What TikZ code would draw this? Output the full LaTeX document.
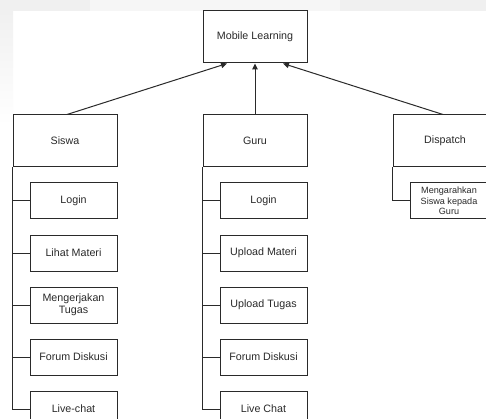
\documentclass[tikz,border=0pt]{standalone}
\usepackage{fontspec}
\setmainfont{Liberation Sans}
\usetikzlibrary{arrows.meta}
\definecolor{ink}{HTML}{2A2A2A}
\definecolor{stripgray}{HTML}{F0F0F0}
\definecolor{stripgraylight}{HTML}{F6F6F6}
\tikzset{
  x=1pt, y=-1pt,
  every node/.style={font=\fontsize{10.7}{12.4}\selectfont, text=ink},
  mainbox/.style={draw=ink, line width=1pt, rectangle, minimum width=104pt, minimum height=52pt, inner sep=0pt, align=center},
  subbox/.style={draw=ink, line width=1pt, rectangle, minimum width=87pt, minimum height=36pt, inner sep=0pt, align=center},
  link/.style={draw=ink, line width=1pt},
  arrowlink/.style={link, -{Triangle[length=6pt, width=5.5pt]}}
}
\begin{document}
\begin{tikzpicture}
\clip (0,0) rectangle (486,419);
\fill[white] (0,0) rectangle (486,419);
% backdrop bands along the top and left edges
\fill[stripgray] (0,0) rectangle (486,11);
\fill[stripgraylight] (90,0) rectangle (340,11);
\shade[top color=stripgray, bottom color=white] (0,11) rectangle (13,125);

% root
\node[mainbox] (mobile) at (255,37) {Mobile Learning};

% actors
\node[mainbox] (siswa) at (65,141) {Siswa};
\node[mainbox] (guru) at (255,141) {Guru};
\node[mainbox] (dispatch) at (445,141) {Dispatch};

\draw[arrowlink] ([xshift=2pt]siswa.north) -- ([xshift=-28pt]mobile.south);
\draw[arrowlink] (guru.north) -- (mobile.south);
\draw[arrowlink] ([xshift=-2pt]dispatch.north) -- ([xshift=28pt]mobile.south);

% Siswa features
\node[subbox] (s1) at (73.5,201) {Login};
\node[subbox] (s2) at (73.5,253) {Lihat Materi};
\node[subbox] (s3) at (73.5,305) {Mengerjakan\\Tugas};
\node[subbox] (s4) at (73.5,357) {Forum Diskusi};
\node[subbox] (s5) at (73.5,409) {Live-chat};
\foreach \n in {s1,s2,s3,s4,s5}
  \draw[link] (siswa.south west) |- (\n.west);

% Guru features
\node[subbox] (g1) at (263.5,201) {Login};
\node[subbox] (g2) at (263.5,253) {Upload Materi};
\node[subbox] (g3) at (263.5,305) {Upload Tugas};
\node[subbox] (g4) at (263.5,357) {Forum Diskusi};
\node[subbox] (g5) at (263.5,409) {Live Chat};
\foreach \n in {g1,g2,g3,g4,g5}
  \draw[link] (guru.south west) |- (\n.west);

% Dispatch feature
\node[subbox] (d1) at (453.5,201) {};
\node[font=\fontsize{9.1}{10.6}\selectfont, align=center, inner sep=0pt] (d1text) at (449,201) {Mengarahkan\\Siswa kepada\\Guru};
\draw[link] (dispatch.south west) |- (d1.west);
\end{tikzpicture}
\end{document}
